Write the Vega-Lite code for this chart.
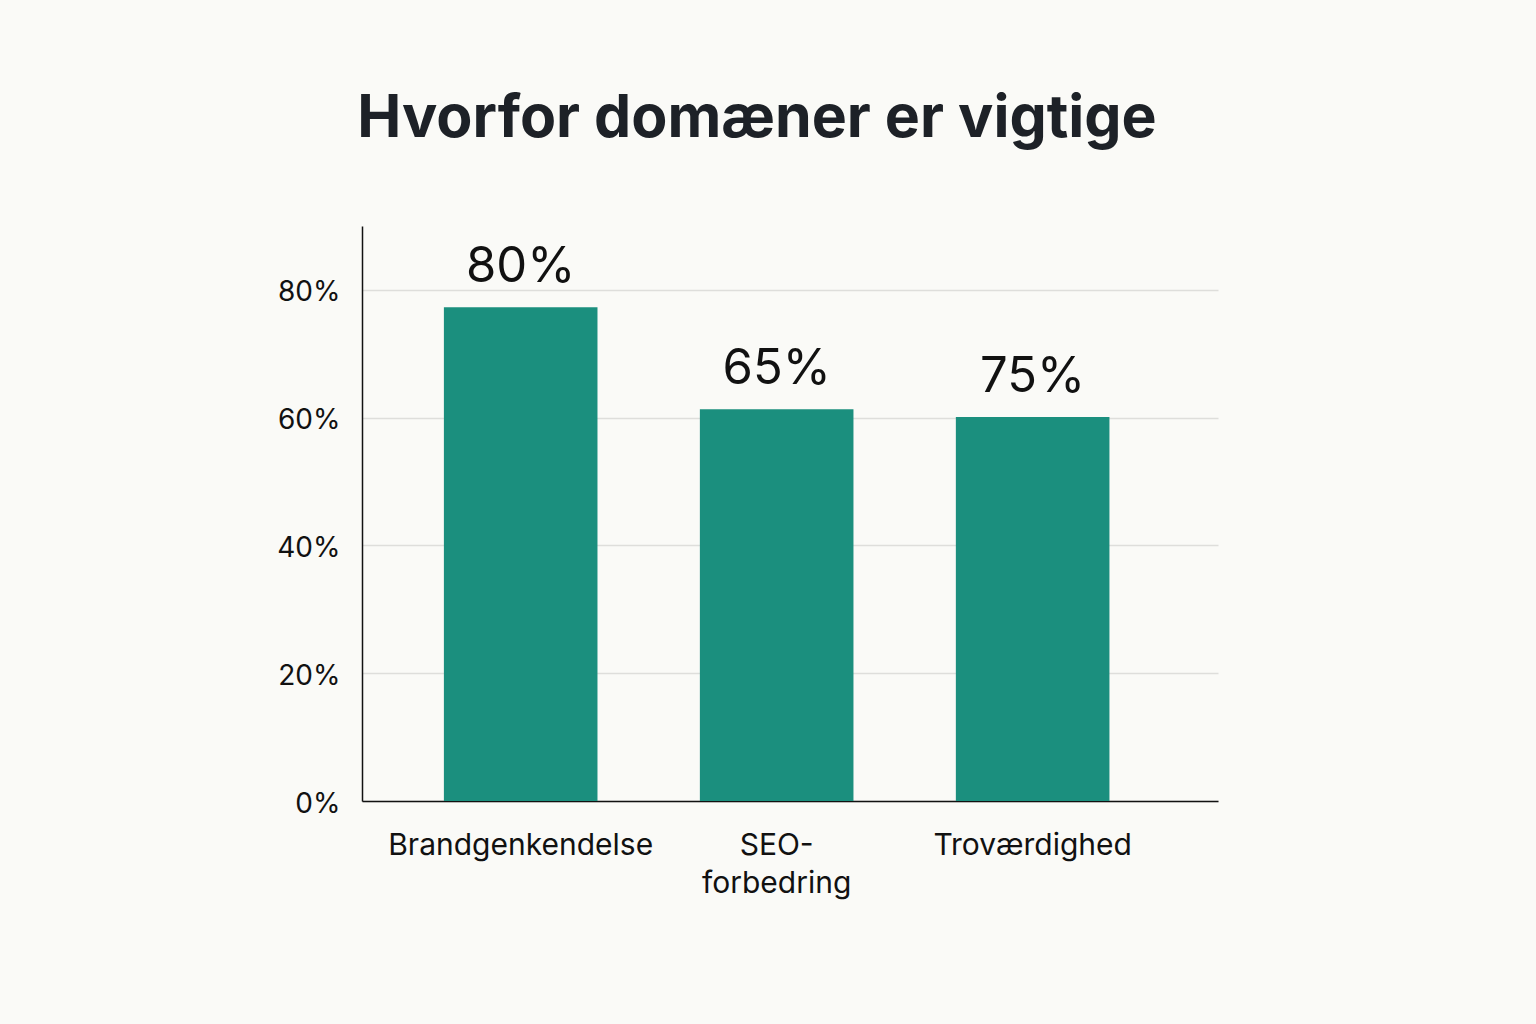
{
  "$schema": "https://vega.github.io/schema/vega-lite/v6.json",
  "width": 856,
  "height": 575,
  "autosize": {"type": "none"},
  "padding": {"left": 362, "top": 226, "right": 318, "bottom": 223},
  "background": "#FAFAF7",
  "title": {
    "text": "Hvorfor domæner er vigtige",
    "font": "Inter",
    "fontSize": 59,
    "fontWeight": "bold",
    "color": "#1D2127",
    "anchor": "middle",
    "dx": -33,
    "offset": 77
  },
  "data": {
    "values": [
      {"omraade": "Brandgenkendelse", "vaerdi": 77.3, "etiket": "80%"},
      {"omraade": "SEO-forbedring", "vaerdi": 61.3, "etiket": "65%"},
      {"omraade": "Troværdighed", "vaerdi": 60.1, "etiket": "75%"}
    ]
  },
  "encoding": {
    "x": {
      "field": "omraade",
      "type": "nominal",
      "sort": null,
      "scale": {"paddingInner": 0.4, "paddingOuter": 0.372, "align": 0.43},
      "axis": {
        "title": null,
        "labelAngle": 0,
        "labelFont": "Inter",
        "labelFontSize": 30,
        "labelColor": "#111111",
        "labelPadding": 29,
        "labelLimit": 400,
        "labelLineHeight": 38,
        "labelExpr": "datum.label === 'SEO-forbedring' ? ['SEO-', 'forbedring'] : datum.label",
        "ticks": false,
        "domainColor": "#111111",
        "domainWidth": 1.5,
        "grid": false
      }
    },
    "y": {
      "field": "vaerdi",
      "type": "quantitative",
      "scale": {"domain": [0, 90], "nice": false},
      "axis": {
        "title": null,
        "values": [0, 20, 40, 60, 80],
        "labelExpr": "datum.value + '%'",
        "labelFont": "Inter",
        "labelFontSize": 28,
        "labelColor": "#111111",
        "labelPadding": 22,
        "labelOffset": 3,
        "ticks": false,
        "domainColor": "#111111",
        "domainWidth": 1.5,
        "grid": true,
        "gridColor": "#DEDEDB",
        "gridWidth": 1.5
      }
    }
  },
  "layer": [
    {
      "mark": {"type": "bar", "color": "#1B8F7E"}
    },
    {
      "mark": {
        "type": "text",
        "font": "Inter",
        "fontSize": 49,
        "color": "#111111",
        "baseline": "alphabetic",
        "dy": -25
      },
      "encoding": {"text": {"field": "etiket"}}
    }
  ],
  "config": {"view": {"stroke": null}}
}
